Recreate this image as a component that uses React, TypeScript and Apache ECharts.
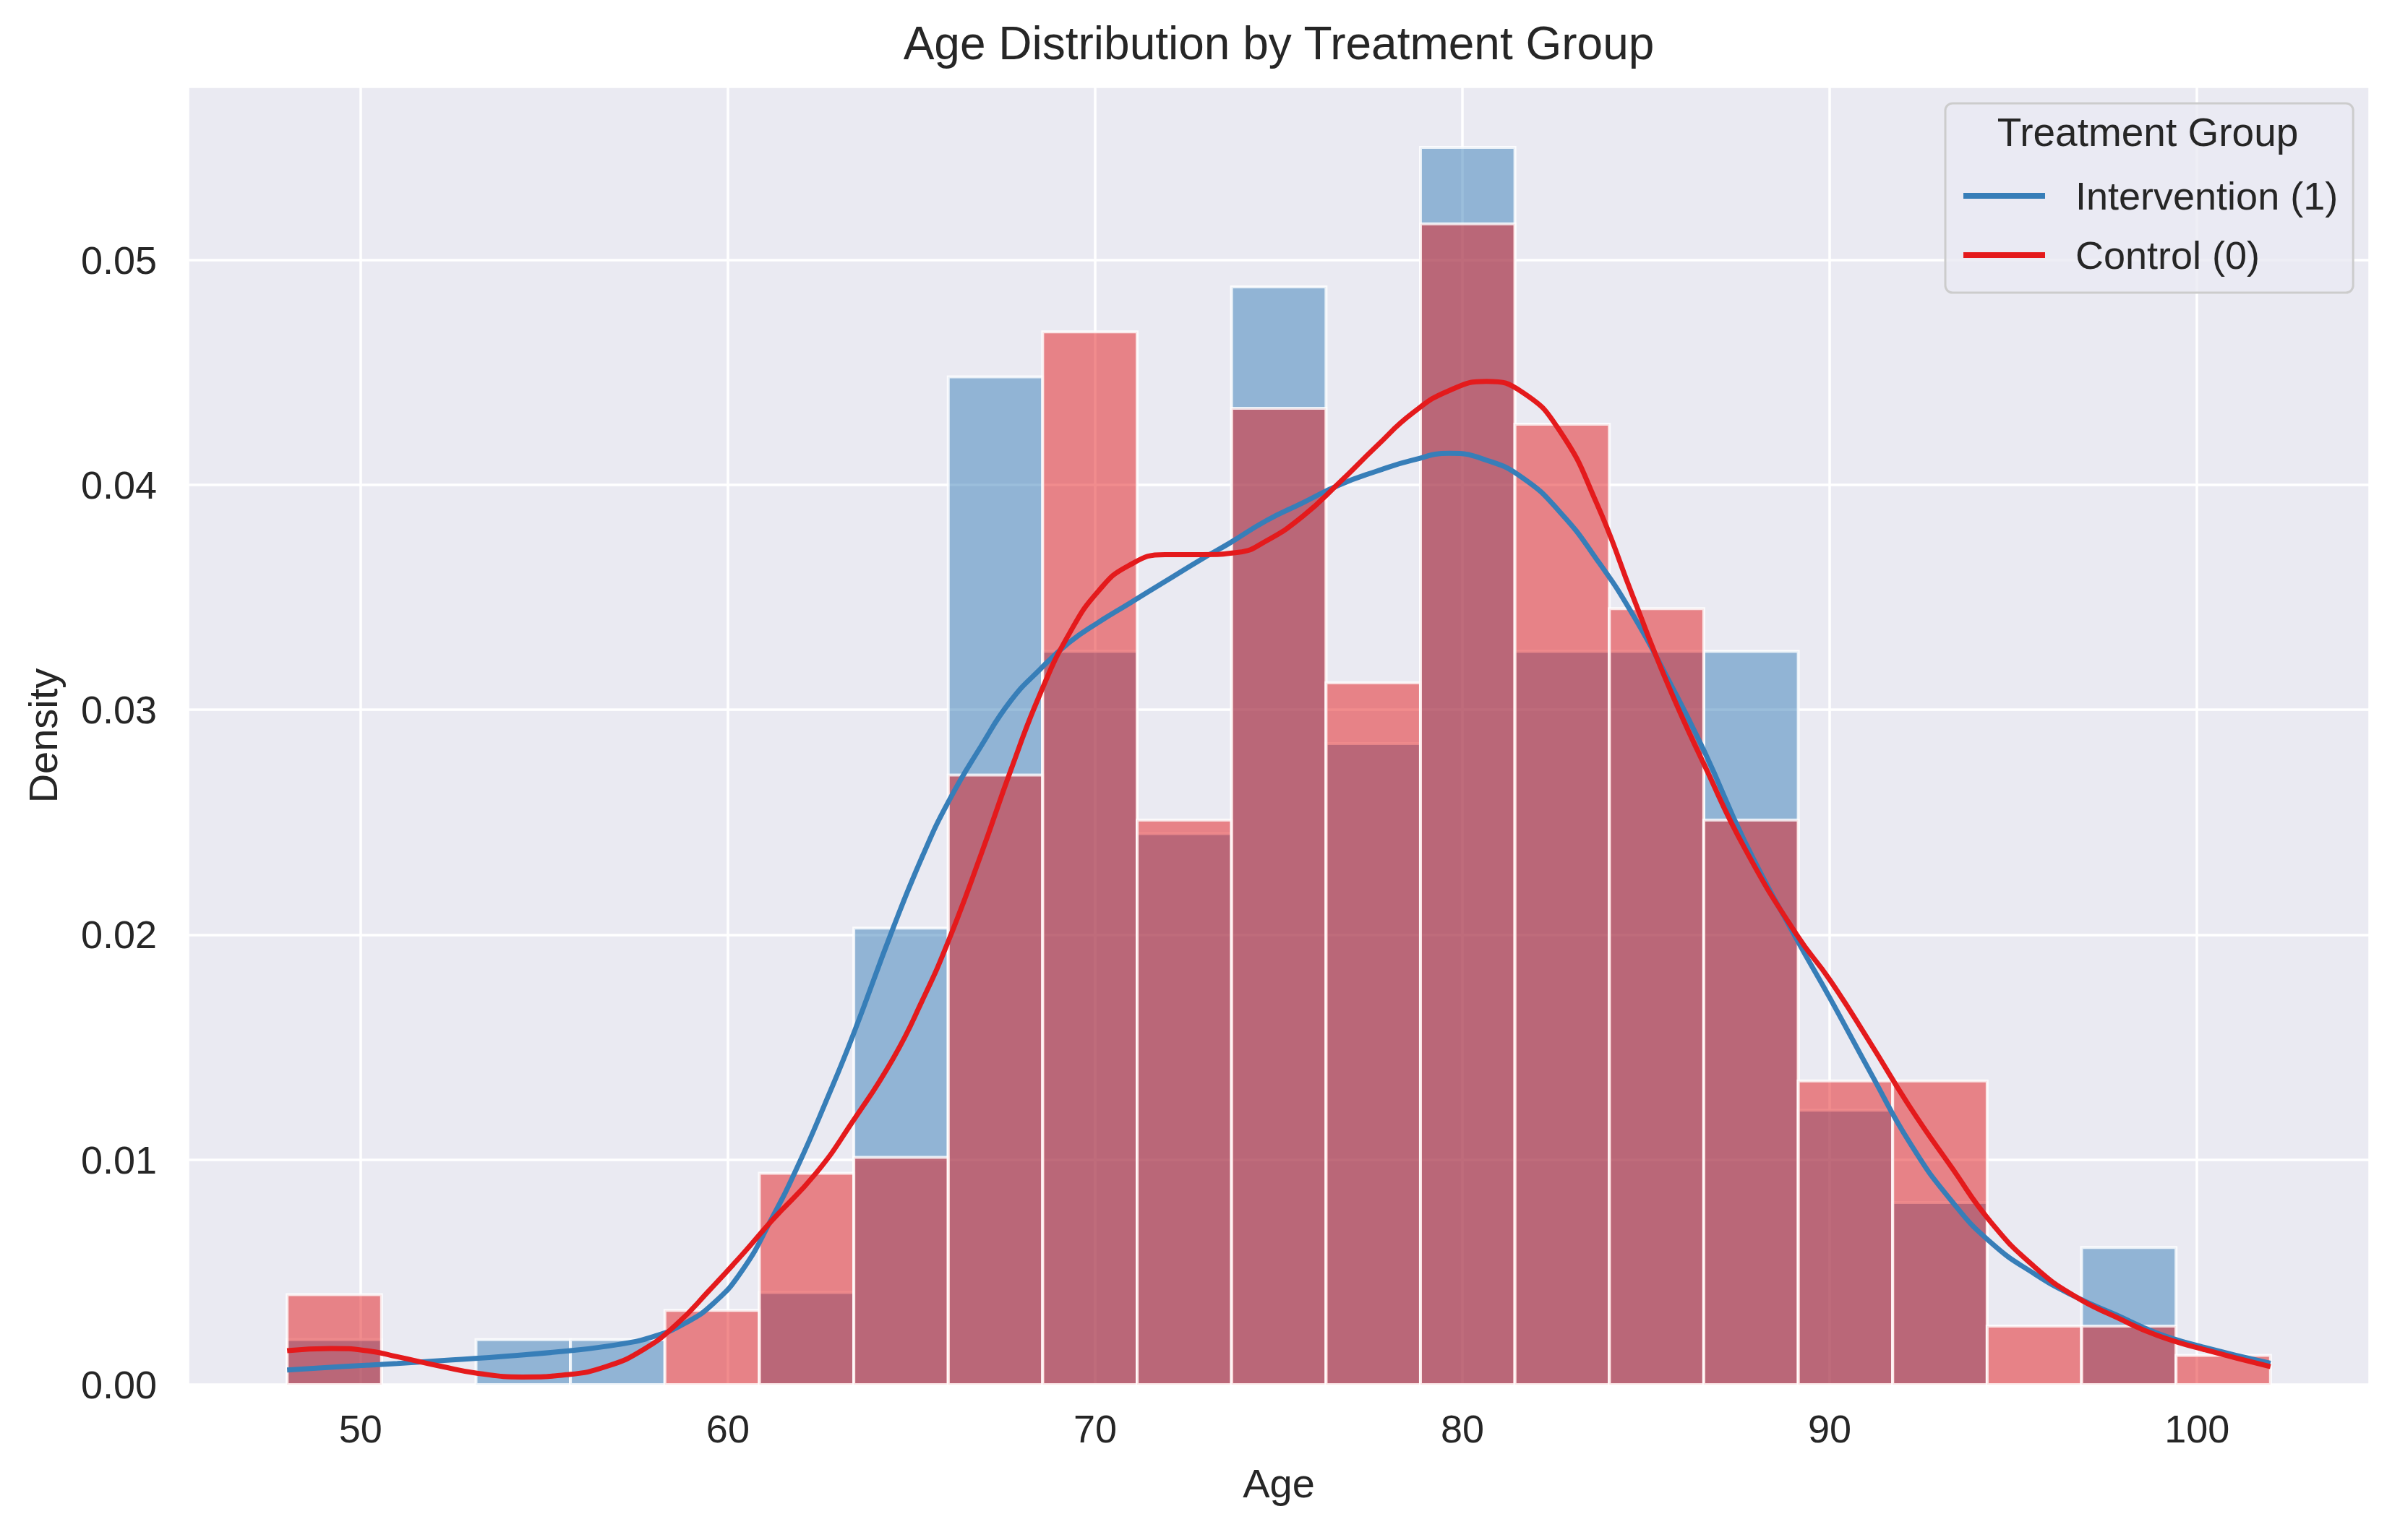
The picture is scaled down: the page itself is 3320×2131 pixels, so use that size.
import React, { useEffect, useRef } from 'react';
import * as echarts from 'echarts';

// ---- data ----
const BIN_EDGES = [48, 50.571, 53.143, 55.714, 58.286, 60.857, 63.429, 66, 68.571, 71.143, 73.714, 76.286, 78.857, 81.429, 84, 86.571, 89.143, 91.714, 94.286, 96.857, 99.429, 102];

const INTERVENTION_DENSITY = [0.0020, 0, 0.0020, 0.0020, 0, 0.0041, 0.0203, 0.0448, 0.0326, 0.0245, 0.0488, 0.0285, 0.0550, 0.0326, 0.0326, 0.0326, 0.0122, 0.0081, 0, 0.0061, 0];
const CONTROL_DENSITY = [0.0040, 0, 0, 0, 0.0033, 0.0094, 0.0101, 0.0271, 0.0468, 0.0251, 0.0434, 0.0312, 0.0516, 0.0427, 0.0345, 0.0251, 0.0135, 0.0135, 0.0026, 0.0026, 0.0013];

const INTERVENTION_KDE = [
  [48, 0.00065], [49.5, 0.0008], [51, 0.00094], [52.5, 0.0011], [54, 0.00127], [55.5, 0.00148],
  [57, 0.00178], [58, 0.00215], [58.8, 0.0027], [59.6, 0.0036], [60.4, 0.0051], [61.2, 0.0074],
  [61.9, 0.0097], [62.7, 0.0127], [63.4, 0.0155], [64.5, 0.0203], [65.3, 0.0235], [66, 0.0259],
  [66.9, 0.0284], [67.7, 0.0304], [68.5, 0.0318], [69.3, 0.0330], [70.1, 0.0339], [70.9, 0.0347],
  [71.9, 0.0357], [72.9, 0.0367], [73.65, 0.0374], [74.65, 0.0384], [75.65, 0.0392],
  [76.65, 0.0400], [77.65, 0.0406], [78.65, 0.0411], [79.65, 0.0414], [80.65, 0.0411], [81.65, 0.0403],
  [82.65, 0.0388], [83.65, 0.0367], [84.65, 0.0342], [85.65, 0.0312], [86.6, 0.0281], [87.7, 0.0241],
  [89.1, 0.0198], [90, 0.0172], [91.1, 0.0139], [92.2, 0.0107], [93.3, 0.0082], [94.4, 0.0063],
  [95.6, 0.0049], [96.7, 0.0039], [97.8, 0.0031], [98.9, 0.0023], [100.1, 0.0017], [102, 0.00095],
];

const CONTROL_KDE = [
  [48, 0.00151], [49.2, 0.00161], [50.2, 0.0015], [51, 0.00124], [52.2, 0.00081], [53.2, 0.0005],
  [54.4, 0.00034], [55.6, 0.00044], [56.7, 0.00081], [57.7, 0.00156], [58.6, 0.00268], [59.5, 0.0042],
  [60.4, 0.0058], [61.2, 0.0073], [62.4, 0.0094], [63.4, 0.0117], [64.5, 0.0145], [65.3, 0.0171],
  [66, 0.0197], [66.9, 0.0236], [67.7, 0.0273], [68.5, 0.0307], [69.3, 0.0334], [70.1, 0.0353],
  [70.9, 0.0364], [71.9, 0.0369], [72.9, 0.0369], [73.9, 0.0370], [74.65, 0.0375], [75.65, 0.0386],
  [76.65, 0.0401], [77.65, 0.0417], [78.65, 0.0432], [79.65, 0.0442], [80.65, 0.0446], [81.65, 0.0441],
  [82.65, 0.0424], [83.65, 0.0392], [84.65, 0.0350], [85.6, 0.0311], [86.6, 0.0275], [87.7, 0.0238],
  [89.1, 0.0200], [90, 0.0180], [91.1, 0.0152], [92.2, 0.0123], [93.3, 0.0097], [94.4, 0.0072],
  [95.6, 0.0052], [96.7, 0.0039], [97.8, 0.0030], [98.9, 0.0022], [100.1, 0.0016], [102, 0.0008],
];

const SERIES_NAMES = ['Intervention (1)', 'Control (0)'];
const TITLE = 'Age Distribution by Treatment Group';
const X_NAME = 'Age';
const Y_NAME = 'Density';
const LEGEND_TITLE = 'Treatment Group';

// ---- styling ----
const BLUE = '#377eb8';
const RED = '#e41a1c';
const TEXT = '#262626';
const FONT = "'Liberation Sans', Arial, Helvetica, sans-serif";

function histData(density: number[]) {
  return density.map((v, i) => [BIN_EDGES[i], BIN_EDGES[i + 1], v]);
}

function histSeries(name: string, density: number[], fill: string) {
  return {
    type: 'custom',
    name,
    z: 2,
    silent: true,
    data: histData(density),
    encode: { x: [0, 1], y: 2 },
    renderItem: (params: any, api: any) => {
      const x0 = api.value(0);
      const x1 = api.value(1);
      const v = api.value(2);
      if (!v) return null;
      const p0 = api.coord([x0, v]);
      const p1 = api.coord([x1, 0]);
      return {
        type: 'rect',
        shape: { x: p0[0], y: p0[1], width: p1[0] - p0[0], height: p1[1] - p0[1] },
        style: { fill, stroke: 'rgba(255,255,255,0.8)', lineWidth: 4 },
      };
    },
  };
}

function lineSeries(name: string, data: number[][], color: string) {
  return {
    type: 'line',
    name,
    z: 3,
    data,
    smooth: 0.5,
    symbol: 'none',
    showSymbol: false,
    silent: true,
    lineStyle: { color, width: 7 },
    itemStyle: { color },
    emphasis: { disabled: true },
  };
}

const option: any = {
  animation: false,
  backgroundColor: '#ffffff',
  textStyle: { fontFamily: FONT, color: TEXT },
  grid: {
    left: 260, right: 42, top: 120, bottom: 215,
    show: true, backgroundColor: '#EAEAF2', borderWidth: 0, containLabel: false,
  },
  xAxis: {
    type: 'value', min: 45.3, max: 104.7, splitNumber: 5,
    name: X_NAME, nameLocation: 'middle', nameGap: 108,
    nameTextStyle: { fontSize: 56, color: TEXT, fontFamily: FONT },
    axisLine: { show: false }, axisTick: { show: false },
    axisLabel: { fontSize: 54, color: TEXT, margin: 34, showMinLabel: false, showMaxLabel: false, fontFamily: FONT,
      formatter: (v: number) => String(Math.round(v)) },
    splitLine: { show: true, lineStyle: { color: '#ffffff', width: 3.5 } },
  },
  yAxis: {
    type: 'value', min: 0, max: 0.0577, splitNumber: 5,
    name: Y_NAME, nameLocation: 'middle', nameGap: 173,
    nameTextStyle: { fontSize: 56, color: TEXT, fontFamily: FONT },
    axisLine: { show: false }, axisTick: { show: false },
    axisLabel: { fontSize: 54, color: TEXT, margin: 43, showMaxLabel: false, fontFamily: FONT,
      formatter: (v: number) => v.toFixed(2) },
    splitLine: { show: true, lineStyle: { color: '#ffffff', width: 3.5 } },
  },
  legend: {
    orient: 'vertical',
    left: 2691, top: 143,
    padding: [98, 21, 22, 21],
    itemWidth: 113, itemHeight: 10, itemGap: 22,
    selectedMode: false,
    backgroundColor: 'rgba(234,234,242,0.8)',
    borderColor: '#cccccc', borderWidth: 3, borderRadius: 10,
    lineStyle: { width: 8 },
    data: SERIES_NAMES.map((n) => ({ name: n })),
    formatter: (name: string) => `{t|${name}}`,
    textStyle: {
      fontSize: 54, color: TEXT, fontFamily: FONT, lineHeight: 60,
      rich: { t: { fontSize: 54, color: TEXT, fontFamily: FONT, lineHeight: 60, padding: [0, 0, 0, 37] } },
    },
  },
  graphic: [
    {
      type: 'text', x: 1769, y: 60, z: 100,
      style: { text: TITLE, fontSize: 64, fill: TEXT, fontFamily: FONT, textAlign: 'center', textVerticalAlign: 'middle' },
    },
    {
      type: 'text', x: 2971, y: 183, z: 100,
      style: { text: LEGEND_TITLE, fontSize: 55, fill: TEXT, fontFamily: FONT, textAlign: 'center', textVerticalAlign: 'middle' },
    },
  ],
  series: [
    histSeries('Intervention (1) histogram', INTERVENTION_DENSITY, 'rgba(55,126,184,0.5)'),
    histSeries('Control (0) histogram', CONTROL_DENSITY, 'rgba(228,26,28,0.5)'),
    lineSeries(SERIES_NAMES[0], INTERVENTION_KDE, BLUE),
    lineSeries(SERIES_NAMES[1], CONTROL_KDE, RED),
  ],
};

export default function App() {
  const ref = useRef<HTMLDivElement>(null);
  useEffect(() => {
    const chart = echarts.init(ref.current as HTMLDivElement, null, { renderer: 'svg' });
    chart.setOption(option);
    return () => chart.dispose();
  }, []);
  return (
    <div
      ref={ref}
      style={{ position: 'fixed', left: 0, top: 0, width: 3320, height: 2131, background: '#ffffff' }}
    />
  );
}
